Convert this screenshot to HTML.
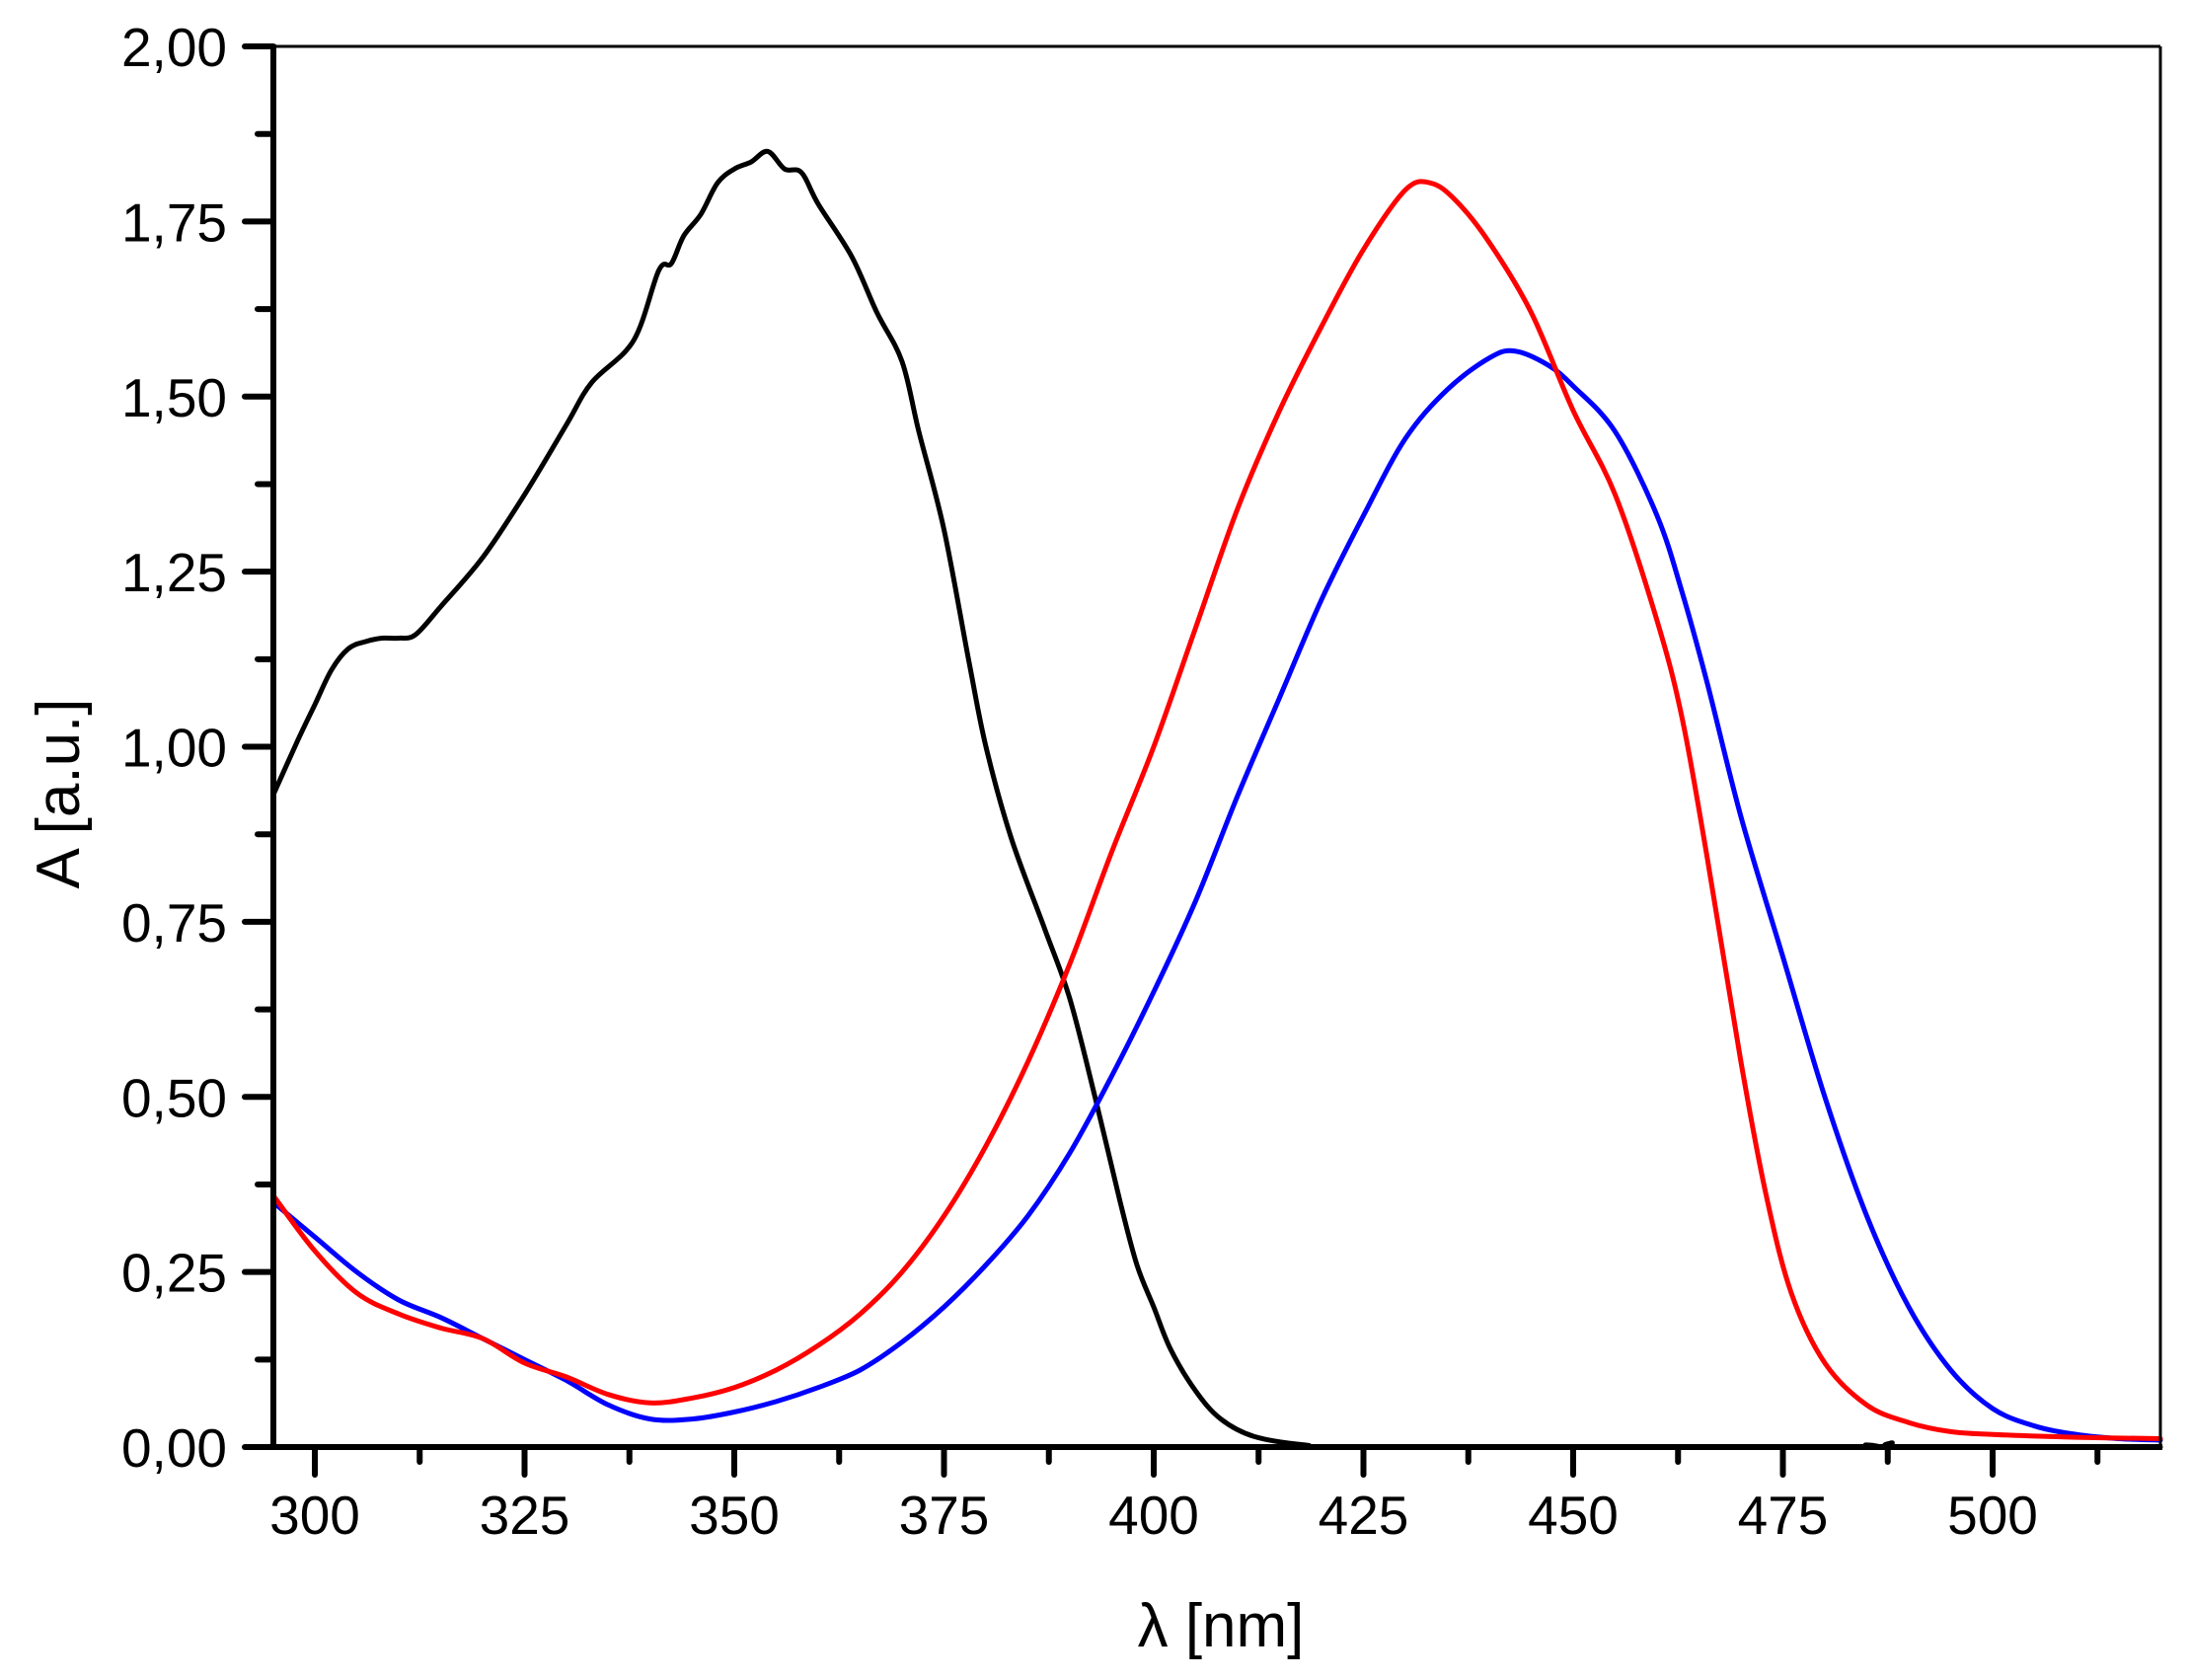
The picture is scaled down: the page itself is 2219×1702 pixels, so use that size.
<!DOCTYPE html>
<html><head><meta charset="utf-8"><style>
html,body{margin:0;padding:0;background:#fff;}
svg{display:block;}
text{font-family:"Liberation Sans",Arial,sans-serif;fill:#000;}
</style></head><body>
<svg id="s" width="2219" height="1702" viewBox="0 0 2219 1702" xmlns="http://www.w3.org/2000/svg">
<rect width="2219" height="1702" fill="#fff"/>
<g id="curves" fill="none" stroke-width="5" stroke-linejoin="round" stroke-linecap="round"></g>
<g id="axes"></g>
<text x="1237" y="1668" font-size="62" text-anchor="middle">λ [nm]</text>
<text transform="translate(80,804) rotate(-90)" font-size="62" text-anchor="middle">A [a.u.]</text>
</svg>
<script>
var NS="http://www.w3.org/2000/svg";
function X(w){return 276.5+(w-295)*8.5;}
function Y(a){return 1466-a*709.5;}
var black=[[295,0.93],[298,1.01],[300,1.06],[302,1.11],[304,1.14],[306,1.15],[308,1.155],[310,1.155],[312,1.16],[315,1.20],[320,1.27],[325,1.36],[330,1.46],[333,1.52],[338,1.58],[341,1.68],[342.5,1.69],[344,1.73],[346,1.76],[348,1.805],[350,1.825],[352,1.835],[354,1.85],[356,1.825],[358,1.82],[360,1.775],[364,1.70],[367,1.62],[370,1.55],[372,1.45],[375,1.31],[378,1.12],[380,1.0],[383,0.87],[387,0.74],[390,0.64],[393,0.50],[396,0.35],[398,0.26],[400,0.20],[402,0.14],[405,0.08],[408,0.04],[412,0.015],[418,0.003],[425,0],[480,0],[485,0.003],[487,0],[488,0.006],[490,0],[520,0]];
var red=[[295,0.36],[300,0.28],[305,0.22],[310,0.19],[315,0.17],[320,0.155],[325,0.12],[330,0.10],[335,0.075],[340,0.063],[345,0.07],[350,0.085],[355,0.11],[360,0.145],[365,0.19],[370,0.25],[375,0.33],[380,0.43],[385,0.55],[390,0.69],[395,0.85],[400,1.00],[405,1.17],[410,1.34],[415,1.48],[420,1.60],[425,1.71],[430,1.795],[433,1.805],[436,1.78],[440,1.72],[445,1.62],[450,1.48],[455,1.36],[460,1.18],[463,1.04],[466,0.84],[470,0.55],[473,0.36],[476,0.22],[480,0.12],[485,0.06],[490,0.035],[495,0.022],[500,0.018],[510,0.014],[520,0.012]];
var blue=[[295,0.35],[300,0.30],[305,0.25],[310,0.21],[315,0.185],[320,0.155],[325,0.125],[330,0.095],[335,0.06],[340,0.04],[345,0.04],[350,0.05],[355,0.065],[360,0.085],[365,0.11],[370,0.15],[375,0.2],[380,0.26],[385,0.33],[390,0.42],[395,0.53],[400,0.65],[405,0.78],[410,0.93],[415,1.07],[420,1.21],[425,1.33],[430,1.44],[435,1.51],[440,1.555],[443,1.565],[447,1.545],[450,1.515],[455,1.45],[460,1.33],[463,1.22],[466,1.09],[470,0.90],[475,0.70],[480,0.50],[485,0.33],[490,0.20],[495,0.11],[500,0.055],[505,0.03],[510,0.018],[515,0.012],[520,0.01]];
function path(d){var p=d.map(function(q){return [X(q[0]),Y(q[1])];});var s="M"+p[0][0]+","+p[0][1];
for(var i=0;i<p.length-1;i++){var p0=p[Math.max(i-1,0)],p1=p[i],p2=p[i+1],p3=p[Math.min(i+2,p.length-1)];
var c1=[p1[0]+(p2[0]-p0[0])/6,p1[1]+(p2[1]-p0[1])/6],c2=[p2[0]-(p3[0]-p1[0])/6,p2[1]-(p3[1]-p1[1])/6];
s+=" C"+c1[0].toFixed(1)+","+c1[1].toFixed(1)+" "+c2[0].toFixed(1)+","+c2[1].toFixed(1)+" "+p2[0].toFixed(1)+","+p2[1].toFixed(1);}return s;}
var g=document.getElementById("curves");
[[black,"#000"],[blue,"#0000ff"],[red,"#ff0000"]].forEach(function(c){var e=document.createElementNS(NS,"path");e.setAttribute("d",path(c[0]));e.setAttribute("stroke",c[1]);g.appendChild(e);});
var a=document.getElementById("axes"),h="";
h+='<line x1="277" y1="47" x2="2189" y2="47" stroke="#000" stroke-width="3"/>';
h+='<line x1="2189" y1="47" x2="2189" y2="1466" stroke="#000" stroke-width="3"/>';
h+='<line x1="277" y1="45" x2="277" y2="1468" stroke="#000" stroke-width="6"/>';
h+='<line x1="248" y1="1466" x2="2191" y2="1466" stroke="#000" stroke-width="6"/>';
for(var i=0;i<=16;i++){var v=i*0.125,y=Y(v),maj=(i%2==0);
h+='<line x1="'+(maj?248:261)+'" y1="'+y+'" x2="277" y2="'+y+'" stroke="#000" stroke-width="6" stroke-linecap="round"/>';
if(maj)h+='<text x="230" y="'+(y+20)+'" font-size="55" text-anchor="end">'+v.toFixed(2).replace(".",",")+'</text>';}
for(var k=0;k<=17;k++){var w=300+k*12.5,x=X(w),maj=(k%2==0);
h+='<line x1="'+x+'" y1="1466" x2="'+x+'" y2="'+(maj?1494:1481)+'" stroke="#000" stroke-width="6" stroke-linecap="round"/>';
if(maj)h+='<text x="'+x+'" y="1554" font-size="55" text-anchor="middle">'+w+'</text>';}
a.innerHTML=h;
</script>
</body></html>
